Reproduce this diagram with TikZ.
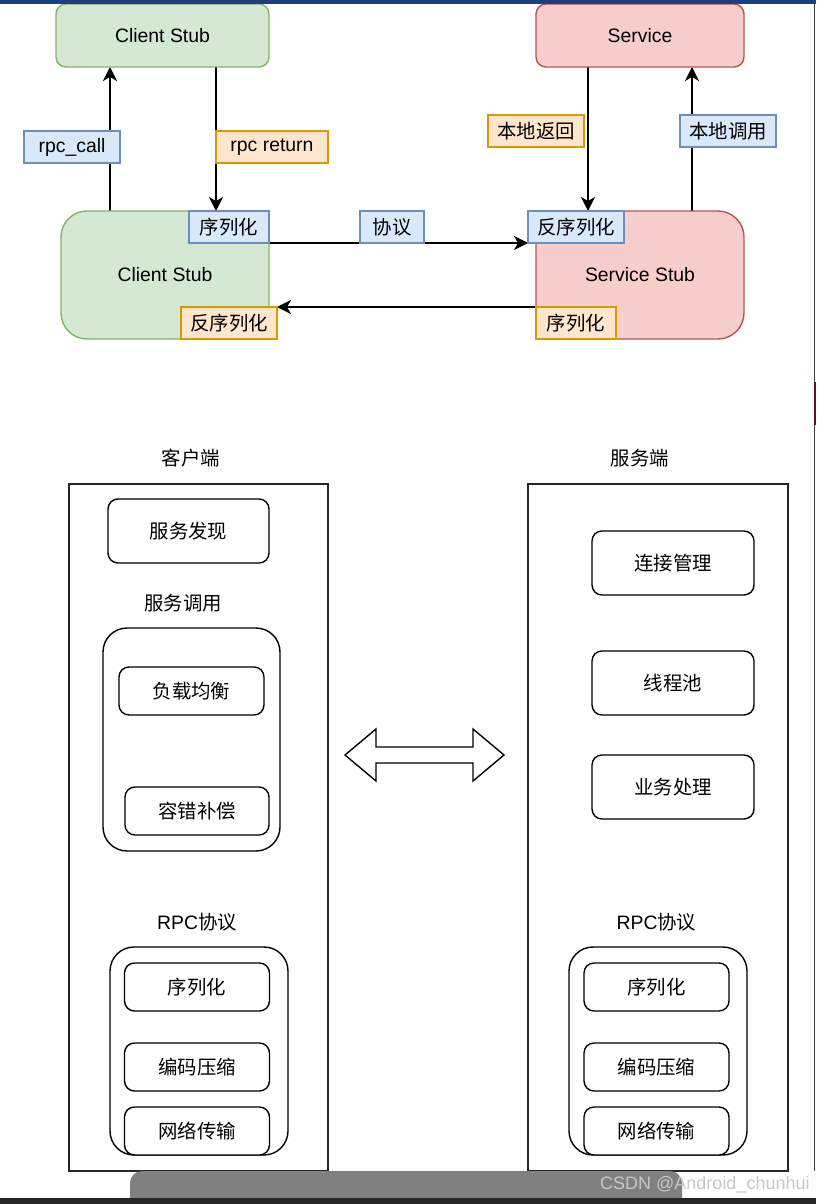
\documentclass[tikz,border=0pt]{standalone}
\usepackage{fontspec}
\setmainfont{Liberation Sans}
\newfontfamily\cjk{Noto Sans CJK SC}
\usetikzlibrary{arrows.meta,backgrounds}
\definecolor{gF}{HTML}{D5E8D4}
\definecolor{gD}{HTML}{82B366}
\definecolor{rF}{HTML}{F8CECC}
\definecolor{rD}{HTML}{B85450}
\definecolor{bF}{HTML}{DAE8FC}
\definecolor{bD}{HTML}{6C8EBF}
\definecolor{oF}{HTML}{FFE6CC}
\definecolor{oD}{HTML}{D79B00}
\definecolor{barBlue}{HTML}{1F3F7A}
\definecolor{barRed}{HTML}{5A1428}
\newcommand\txtsize{\fontsize{9.7}{11}\selectfont}
\tikzset{
  sz/.style 2 args={minimum width={#1*0.5pt}, minimum height={#2*0.5pt}},
  lat/.style={font=\txtsize, inner sep=0pt},
  zh/.style={font=\cjk\txtsize},
  base/.style={draw, inner sep=0pt, outer sep=0pt, line width=0.7pt, font=\txtsize},
  stub/.style={base, rounded corners=#1},
  tag/.style={base, fill=bF, draw=bD},
  tagO/.style={base, fill=oF, draw=oD},
  frame/.style={base, draw=black!85},
  group/.style={base, rounded corners=12pt},
  item/.style={base, fill=white, rounded corners=5pt},
  arr/.style={line width=0.7pt, -{Stealth[length=7pt,width=7pt,inset=2pt]}}
}
\begin{document}
\begin{tikzpicture}[x=0.5pt,y=-0.5pt]
\useasboundingbox (0,0) rectangle (816,1204);
% заглушки
\node[stub=5pt, fill=gF, draw=gD, sz={213}{63}] (cstop) at (162.5,35.5) {Client Stub};
\node[stub=5pt, fill=rF, draw=rD, sz={208}{63}] (svc) at (640,35.5) {Service};
\node[stub=13pt, fill=gF, draw=gD, sz={208}{128}] (cs) at (165,275) {Client Stub};
\node[stub=13pt, fill=rF, draw=rD, sz={208}{128}] (ss) at (640,275) {Service Stub};
% метки
\node[tag, sz={96}{32}] (call) at (72,147) {rpc\_call};
\node[tagO, sz={112}{32}] (ret) at (272,147) {rpc return};
\node[tag, zh, sz={80}{32}] (ser1) at (229,227) {序列化};
\node[tagO, zh, sz={96}{32}] (deser1) at (229,323) {反序列化};
\node[tag, zh, sz={64}{32}] (xieyi) at (392,227) {协议};
\node[tag, zh, sz={96}{32}] (deser2) at (576,227) {反序列化};
\node[tagO, zh, sz={80}{32}] (ser2) at (576,323) {序列化};
\node[tagO, zh, sz={96}{32}] (fanhui) at (536,131) {本地返回};
\node[tag, zh, sz={96}{32}] (diaoyong) at (728,131) {本地调用};
% стрелки
\coordinate (callx) at (110,0);
\coordinate (retx) at (216,0);
\coordinate (fhx) at (588,0);
\coordinate (dyx) at (692,0);
\begin{pgfonlayer}{background}
\draw[arr] (cs.north -| callx) -- (cstop.south -| callx);
\draw[arr] (cstop.south -| retx) -- (ser1.north -| retx);
\draw[arr] (ser1.south east) -- (deser2.south west);
\draw[arr] (ser2.north west) -- (deser1.north east);
\draw[arr] (svc.south -| fhx) -- (deser2.north -| fhx);
\draw[arr] (ss.north -| dyx) -- (svc.south -| dyx);
\end{pgfonlayer}
% клиент
\node[zh] (cliT) at (191,458) {客户端};
\node[frame, sz={259}{687}] (cli) at (198.5,827.5) {};
\node[item, zh, sz={161}{64}] (fx) at (188.5,531) {服务发现};
\node[zh] (dyT) at (183,603) {服务调用};
\node[group, sz={177}{223}] (dyG) at (191.5,739.5) {};
\node[item, zh, sz={145}{48}] (fz) at (191.5,691) {负载均衡};
\node[item, zh, sz={144}{48}] (rc) at (197,811) {容错补偿};
% сервер
\node[zh] (srvT) at (640,458) {服务端};
\node[frame, sz={260}{687}] (srv) at (658,827.5) {};
\foreach \t/\y [count=\k] in {连接管理/563, 线程池/683, 业务处理/787}
  \node[item, zh, sz={162}{64}] (sv\k) at (673,\y) {\t};
% протокол
\foreach \gx/\ix/\s in {199/197/c, 658/656.5/s}{
  \node[lat] (rpcT\s) at (\ix,922) {RPC{\cjk 协议}};
  \node[group, sz={178}{208}] (rpcG\s) at (\gx,1051) {};
  \foreach \t/\y [count=\k] in {序列化/987, 编码压缩/1067, 网络传输/1131}
    \node[item, zh, sz={145}{48}] (rpc\s\k) at (\ix,\y) {\t};
}
% двойная стрелка
\draw[line width=0.7pt, line join=miter] (345,755) -- (376,729) -- (376,747) -- (473,747)
  -- (473,729) -- (504,755) -- (473,781) -- (473,763) -- (376,763) -- (376,781) -- cycle;
% рамка окна
\fill[barBlue] (0,0) rectangle (816,4);
\draw[black!75, line width=0.6pt] (814.5,4) -- (814.5,1171);
\fill[barRed] (813.5,382) rectangle (816,425);
\fill[black!50] (130,1204) [rounded corners=6pt] -- (130,1171) -- (682,1171) [sharp corners] -- (682,1204) -- cycle;
\fill[black!85] (0,1198) rectangle (816,1204);
\node[anchor=east, font=\fontsize{9}{10}\selectfont, text=white!78!black, inner sep=0pt] (wm) at (810,1185) {CSDN @Android\_chunhui};
\end{tikzpicture}
\end{document}
